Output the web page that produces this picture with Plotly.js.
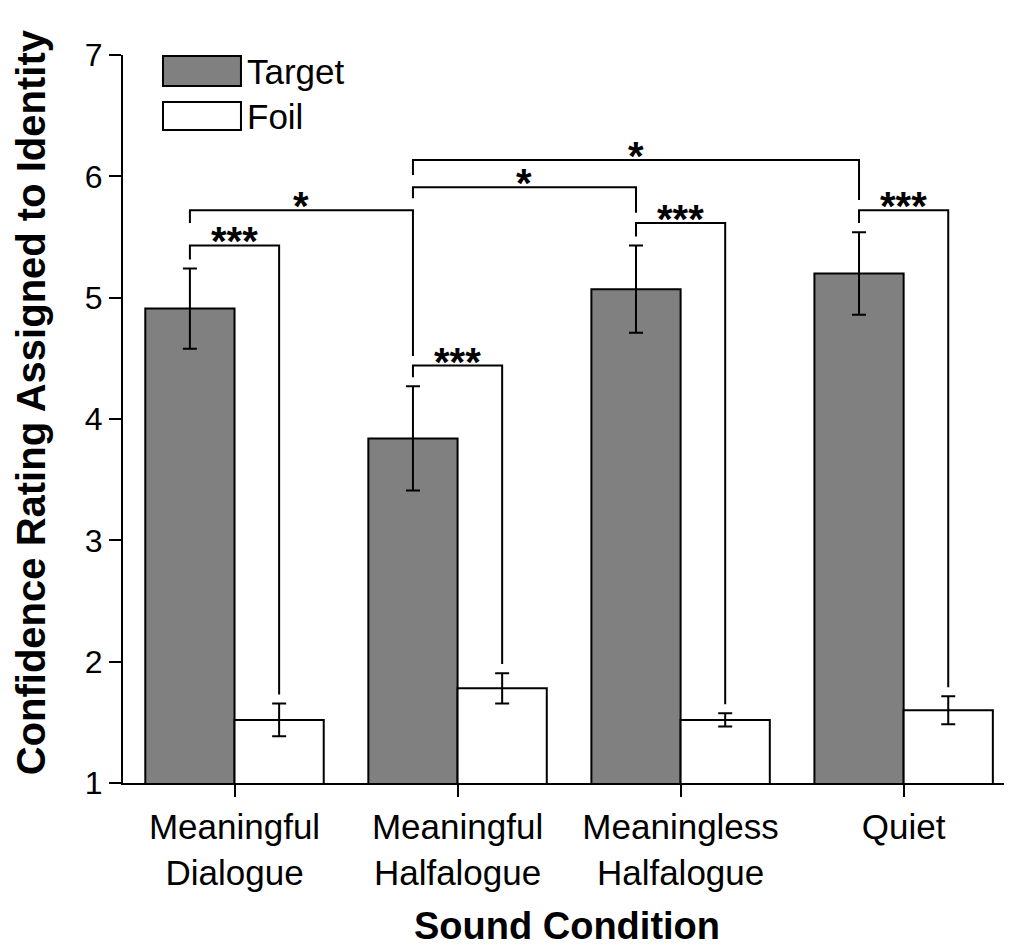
<!DOCTYPE html>
<html>
<head>
<meta charset="utf-8">
<script src="https://cdn.plot.ly/plotly-3.0.1.min.js"></script>
<style>
  html, body { margin: 0; padding: 0; background: #ffffff; }
  #chart { width: 1010px; height: 952px; }
</style>
</head>
<body>
<div id="chart"></div>
<script>
// ---- data ----
const categories = ['Meaningful Dialogue', 'Meaningful Halfalogue', 'Meaningless Halfalogue', 'Quiet'];
const tickLabels = ['Meaningful<br>Dialogue', 'Meaningful<br>Halfalogue', 'Meaningless<br>Halfalogue', 'Quiet'];
const seriesNames = ['Target', 'Foil'];
const targetMeans = [4.91, 3.84, 5.07, 5.20];
const targetErr   = [0.33, 0.43, 0.36, 0.34];
const foilMeans   = [1.52, 1.78, 1.52, 1.60];
const foilErr     = [0.135, 0.125, 0.055, 0.115];
const sigLabels   = ['***', '*', '***', '*', '***', '*', '***'];
const yTitle = 'Confidence Rating Assigned to Identity';
const xTitle = 'Sound Condition';

// ---- layout helpers ----
const FONT = 'Liberation Sans, Arial, Helvetica, sans-serif';
const xIdx = categories.map((c, i) => i);
const BARGAP = 0.2;
const half = (1 - BARGAP) / 4;           // offset of each bar centre from category centre
const errTop = [targetMeans.map((v, i) => v + targetErr[i]), foilMeans.map((v, i) => v + foilErr[i])];
const LEG_GAP = 0.075;

// bracket specs: a/b = [category, series(0 target,1 foil)], level = bracket height,
// legA/legB = 'bar' (stop just above the error bar) or a value
const brackets = [
  {a: [0, 0], b: [0, 1], level: 5.43, legA: 'bar', legB: 'bar'},
  {a: [0, 0], b: [1, 0], level: 5.72, legA: 5.615, legB: 4.52},
  {a: [1, 0], b: [1, 1], level: 4.44, legA: 'bar', legB: 'bar'},
  {a: [1, 0], b: [2, 0], level: 5.91, legA: 5.82, legB: 5.70},
  {a: [2, 0], b: [2, 1], level: 5.615, legA: 'bar', legB: 'bar'},
  {a: [1, 0], b: [3, 0], level: 6.135, legA: 6.01, legB: 5.805},
  {a: [3, 0], b: [3, 1], level: 5.72, legA: 'bar', legB: 'bar'}
];

const xOf = p => xIdx[p[0]] + (p[1] === 0 ? -half : half);
const legEnd = (leg, p) => leg === 'bar' ? errTop[p[1]][p[0]] + LEG_GAP : leg;

const shapes = [];
const annotations = [];
const lineStyle = {color: '#000000', width: 2};
brackets.forEach((br, k) => {
  const xa = xOf(br.a), xb = xOf(br.b);
  shapes.push({type: 'path', xref: 'x', yref: 'y',
    path: `M ${xa},${legEnd(br.legA, br.a)} L ${xa},${br.level} L ${xb},${br.level} L ${xb},${legEnd(br.legB, br.b)}`,
    line: lineStyle});
  annotations.push({xref: 'x', yref: 'y', x: (xa + xb) / 2, y: br.level, text: '<b>' + sigLabels[k] + '</b>',
    showarrow: false, yanchor: 'bottom', yshift: -20,
    font: {family: FONT, size: 40, color: '#000000'}});
});

// manual legend (large boxes as in the original)
const legendFills = ['#808080', '#ffffff'];
const legendY = [[0.9574, 0.9986], [0.897, 0.9354]];
seriesNames.forEach((name, i) => {
  shapes.push({type: 'rect', xref: 'paper', yref: 'paper', x0: 0.0454, x1: 0.1339,
    y0: legendY[i][0], y1: legendY[i][1], fillcolor: legendFills[i], line: lineStyle});
  annotations.push({xref: 'paper', yref: 'paper', x: 0.139, y: (legendY[i][0] + legendY[i][1]) / 2,
    xanchor: 'left', yanchor: 'middle', text: name, showarrow: false,
    font: {family: FONT, size: 35, color: '#000000'}});
});

// axis titles placed as annotations for exact positioning
annotations.push({xref: 'paper', yref: 'paper', x: 0, y: 0.523, xshift: -92, textangle: -90,
  xanchor: 'center', yanchor: 'middle', showarrow: false, text: '<b>' + yTitle + '</b>',
  font: {family: FONT, size: 40, color: '#000000'}});
annotations.push({xref: 'paper', yref: 'paper', x: 0.504, y: 0, yshift: -166,
  xanchor: 'center', yanchor: 'bottom', showarrow: false, text: '<b>' + xTitle + '</b>',
  font: {family: FONT, size: 38, color: '#000000'}});

const traces = [
  {type: 'bar', name: seriesNames[0], x: xIdx, y: targetMeans,
   marker: {color: legendFills[0], line: {color: '#000000', width: 2}},
   error_y: {type: 'data', array: targetErr, visible: true, color: '#000000', thickness: 2, width: 7}},
  {type: 'bar', name: seriesNames[1], x: xIdx, y: foilMeans,
   marker: {color: legendFills[1], line: {color: '#000000', width: 2}},
   error_y: {type: 'data', array: foilErr, visible: true, color: '#000000', thickness: 2, width: 7}}
];

const layout = {
  width: 1010, height: 952,
  margin: {l: 123, r: 6, t: 55, b: 169},
  paper_bgcolor: '#ffffff', plot_bgcolor: '#ffffff',
  showlegend: false,
  barmode: 'group', bargap: BARGAP, bargroupgap: 0,
  font: {family: FONT, color: '#000000'},
  xaxis: {
    type: 'linear', range: [-0.5, 3.45], tickvals: xIdx, ticktext: tickLabels,
    showgrid: false, zeroline: false, showline: true, linecolor: '#000000', linewidth: 2,
    ticks: 'outside', ticklen: 12, tickwidth: 2, tickcolor: '#000000',
    tickfont: {family: FONT, size: 35, color: '#000000'}
  },
  yaxis: {
    range: [1, 7], tickvals: [1, 2, 3, 4, 5, 6, 7],
    showgrid: false, zeroline: false, showline: true, linecolor: '#000000', linewidth: 2,
    ticks: 'outside', ticklen: 12, tickwidth: 2, tickcolor: '#000000',
    tickfont: {family: FONT, size: 32, color: '#000000'}
  },
  shapes: shapes,
  annotations: annotations
};

Plotly.newPlot('chart', traces, layout, {displayModeBar: false, staticPlot: true});
</script>
</body>
</html>
